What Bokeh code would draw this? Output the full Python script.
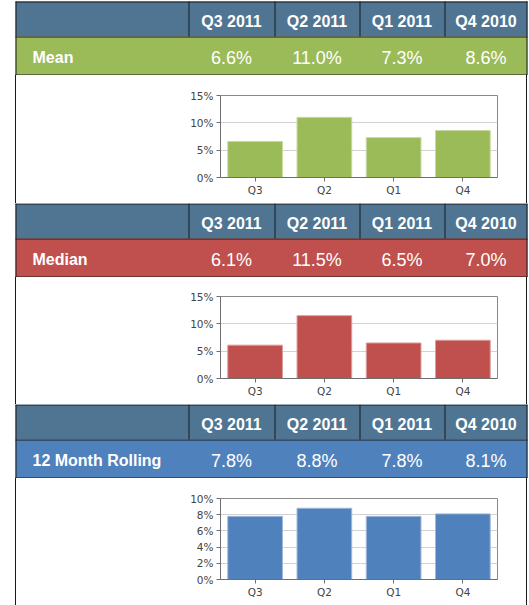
from bokeh.plotting import figure
from bokeh.layouts import column, row
from bokeh.models import Range1d, FactorRange, FixedTicker, Spacer
from bokeh.embed import file_html
from bokeh.resources import INLINE
from bokeh.core.properties import value

# ---------------- data ----------------
periods = ["Q3 2011", "Q2 2011", "Q1 2011", "Q4 2010"]
quarters = ["Q3", "Q2", "Q1", "Q4"]
row_labels = ["Mean", "Median", "12 Month Rolling"]
mean_vals = [6.6, 11.0, 7.3, 8.6]
median_vals = [6.1, 11.5, 6.5, 7.0]
rolling_vals = [7.8, 8.8, 7.8, 8.1]
y_ticks_mean = [0, 5, 10, 15]
y_ticks_median = [0, 5, 10, 15]
y_ticks_rolling = [0, 2, 4, 6, 8, 10]

# ---------------- style / layout ----------------
HEADER = "#4F7593"
COLORS = ["#9BBB59", "#C0504D", "#4F81BD"]
W = 529
COL_EDGES = [15, 188, 274, 359, 444, 527]
HEAD_H = 35
ROW_H = 39
LINE = "#1a1a1a"
LBL_FONT = value("Liberation Sans")

CHART_W = (COL_EDGES[-1] - 1) - (COL_EDGES[0] + 1)   # between the two border lines
RIGHT_PAD = W - COL_EDGES[-1]


def lighten(hexc, f=0.45):
    r, g, b = int(hexc[1:3], 16), int(hexc[3:5], 16), int(hexc[5:7], 16)
    r, g, b = [int(c + (255 - c) * f) for c in (r, g, b)]
    return "#%02x%02x%02x" % (r, g, b)


def table_fig(label, vals, color, top_pad):
    h = top_pad + HEAD_H + ROW_H
    p = figure(width=W, height=h, x_range=Range1d(0, W), y_range=Range1d(h, 0),
               output_backend="svg", toolbar_location=None,
               x_axis_location=None, y_axis_location=None, min_border=0)
    p.grid.visible = False
    p.outline_line_color = None
    L, R = COL_EDGES[0], COL_EDGES[-1]
    y0 = top_pad
    y1 = top_pad + HEAD_H
    p.quad(left=[L], right=[R], top=[y0], bottom=[y1],
           fill_color=HEADER, line_color=None)
    p.quad(left=[L], right=[R], top=[y1], bottom=[h],
           fill_color=color, line_color=None)
    inner = COL_EDGES[1:-1]
    p.segment(x0=[x + 0.5 for x in inner], x1=[x + 0.5 for x in inner],
              y0=[y0] * len(inner), y1=[y1] * len(inner),
              line_color=LINE, line_width=1)
    p.segment(x0=[L + 0.5, R - 0.5], x1=[L + 0.5, R - 0.5], y0=[y0, y0], y1=[h, h],
              line_color=LINE, line_width=1)
    p.segment(x0=[L] * 3, x1=[R] * 3, y0=[y0 + 0.5, y1 + 0.5, h - 0.5],
              y1=[y0 + 0.5, y1 + 0.5, h - 0.5], line_color=LINE, line_width=1)
    centers = [(COL_EDGES[i + 1] + COL_EDGES[i + 2]) / 2 for i in range(len(periods))]
    p.text(x=centers, y=[y0 + HEAD_H / 2 + 2] * len(periods), text=periods,
           text_align="center", text_baseline="middle", text_color="white",
           text_font=LBL_FONT, text_font_style="bold", text_font_size="16px")
    p.text(x=centers, y=[y1 + ROW_H / 2 + 2] * len(vals),
           text=["%.1f%%" % v for v in vals],
           text_align="center", text_baseline="middle", text_color="white",
           text_font=LBL_FONT, text_font_size="18px")
    p.text(x=[32], y=[y1 + ROW_H / 2 + 1], text=[label],
           text_align="left", text_baseline="middle", text_color="white",
           text_font=LBL_FONT, text_font_style="bold", text_font_size="16px")
    return p


def chart_fig(vals, color, ticks, h, btop, bbot):
    left_border = 220 - (COL_EDGES[0] + 1)
    p = figure(width=CHART_W, height=h, x_range=FactorRange(factors=quarters),
               y_range=Range1d(0, ticks[-1]), output_backend="svg",
               toolbar_location=None, min_border_left=left_border,
               min_border_right=CHART_W - left_border - 277,
               min_border_top=btop, min_border_bottom=bbot)
    p.vbar(x=quarters, top=vals, width=0.79, fill_color=color,
           line_color=lighten(color), line_width=1)
    p.outline_line_color = "#8a8a8a"
    p.xgrid.visible = False
    p.ygrid.grid_line_color = "#d2d2d2"
    p.yaxis.ticker = FixedTicker(ticks=ticks)
    p.yaxis.major_label_overrides = {t: "%d%%" % t for t in ticks}
    for ax in (p.xaxis[0], p.yaxis[0]):
        ax.axis_line_color = "#6e6e6e"
        ax.major_tick_line_color = "#6e6e6e"
        ax.major_tick_in = 0
        ax.major_tick_out = 4
        ax.minor_tick_line_color = None
        ax.major_label_text_font = "DejaVu Sans"
        ax.major_label_text_font_size = "10.5px"
        ax.major_label_text_color = "#444444"
    p.xaxis.major_label_standoff = 2
    p.yaxis.major_label_standoff = 3
    return p


def vline(h):
    return Spacer(width=1, height=h, background=LINE,
                  styles={"background-color": LINE})


def chart_row(vals, color, ticks, h, bt, bb):
    return row(Spacer(width=COL_EDGES[0], height=h),
               vline(h),
               chart_fig(vals, color, ticks, h, bt, bb),
               vline(h),
               Spacer(width=RIGHT_PAD, height=h),
               spacing=0)


sections = [
    (row_labels[0], mean_vals, COLORS[0], y_ticks_mean, 1, 128, 20, 26),
    (row_labels[1], median_vals, COLORS[1], y_ticks_median, 0, 127, 19, 26),
    (row_labels[2], rolling_vals, COLORS[2], y_ticks_rolling, 0, 127, 20, 26),
]

children = []
for label, vals, color, ticks, pad, h, bt, bb in sections:
    children.append(table_fig(label, vals, color, pad))
    children.append(chart_row(vals, color, ticks, h, bt, bb))

layout = column(children, spacing=0)
open("out.html", "w").write(file_html(layout, INLINE))
